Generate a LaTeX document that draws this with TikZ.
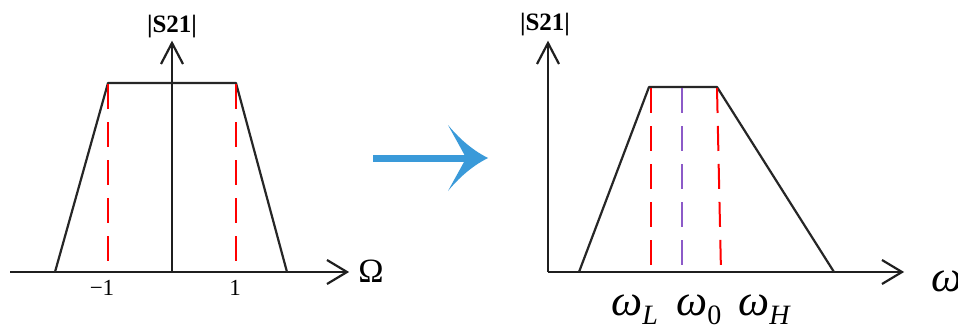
\documentclass[tikz,border=0pt]{standalone}
\usepackage{fontspec}
\setmainfont{Liberation Serif}
\definecolor{arrblue}{RGB}{58,154,217}
\definecolor{purp}{RGB}{140,90,200}
\begin{document}
\begin{tikzpicture}[x=1pt,y=-1pt,
  axis/.style={line width=2.2pt, draw=black!88, line join=miter},
  curve/.style={line width=2.2pt, draw=black!85, line join=round},
  reddash/.style={line width=2pt, draw=red, dash pattern=on 25pt off 13pt},
  purpdash/.style={line width=2pt, draw=purp, dash pattern=on 25pt off 13pt},
  lbl/.style={inner sep=0pt, font=\fontsize{25}{27}\selectfont\bfseries},
  tick/.style={inner sep=0pt, font=\fontsize{23}{25}\selectfont},
  omg/.style={inner sep=0pt, font=\fontsize{44}{46}\selectfont\itshape}]
\fill[white] (0,0) rectangle (958,329);
\useasboundingbox (0,0) rectangle (958,329);
% ---------- left plot ----------
\coordinate (lo) at (172,272);
\coordinate (lx0) at (10,272);
\coordinate (lxt) at (347,272);
\coordinate (lyt) at (172,43);
\draw[axis] (lx0) -- (lxt);
\draw[axis] (327,260) -- (lxt) -- (327,284);
\draw[axis] (lo) -- (lyt);
\draw[axis] (161,64) -- (lyt) -- (183,64);
\coordinate (la) at (55,272);
\coordinate (lb) at (108,83);
\coordinate (lc) at (236,83);
\coordinate (ld) at (287,272);
\draw[curve] (la) -- (lb) -- (lc) -- (ld);
\draw[reddash] (108,84) -- (108,272);
\draw[reddash] (236,84) -- (236,272);
\node[lbl] (ls) at (172,27) {|S21|};
\node[tick] (lm1) at (102,288) {−1};
\node[tick] (lp1) at (235,288) {1};
\node[inner sep=0pt, font=\fontsize{34}{36}\selectfont] (lom) at (371,271) {Ω};
% ---------- blue arrow ----------
\draw[line width=7pt, draw=arrblue] (373,158) -- (468,158);
\fill[arrblue]
  (448,125) .. controls (462,142) and (476,152) .. (488,158)
  .. controls (476,164) and (462,174) .. (448,191)
  .. controls (455,178) and (462,166) .. (466,158)
  .. controls (462,150) and (455,138) .. cycle;
% ---------- right plot ----------
\coordinate (ro) at (548,272);
\coordinate (rxt) at (902,272);
\coordinate (ryt) at (548,43);
\draw[axis] (ro) -- (rxt);
\draw[axis] (882,260) -- (rxt) -- (882,284);
\draw[axis] (ro) -- (ryt);
\draw[axis] (537,64) -- (ryt) -- (559,64);
\coordinate (ra) at (579,272);
\coordinate (rb) at (649,87);
\coordinate (rc) at (717,87);
\coordinate (rd) at (834,272);
\draw[curve] (ra) -- (rb) -- (rc) -- (rd);
\draw[reddash] (651,88) -- (651,272);
\draw[purpdash] (682,88) -- (682,272);
\draw[reddash] (717,88) -- (721,272);
\node[lbl] (rs) at (545,25) {|S21|};
\node[omg, anchor=west] (rw) at (931,281) {ω};
\node[omg, anchor=base west] (wl) at (611,315) {ω\raisebox{-9pt}{\fontsize{28}{30}\selectfont L}};
\node[omg, anchor=base west] (w0) at (676,315) {ω\raisebox{-9pt}{\fontsize{28}{30}\selectfont\upshape 0}};
\node[omg, anchor=base west] (wh) at (738,315) {ω\raisebox{-9pt}{\fontsize{28}{30}\selectfont H}};
\end{tikzpicture}
\end{document}
